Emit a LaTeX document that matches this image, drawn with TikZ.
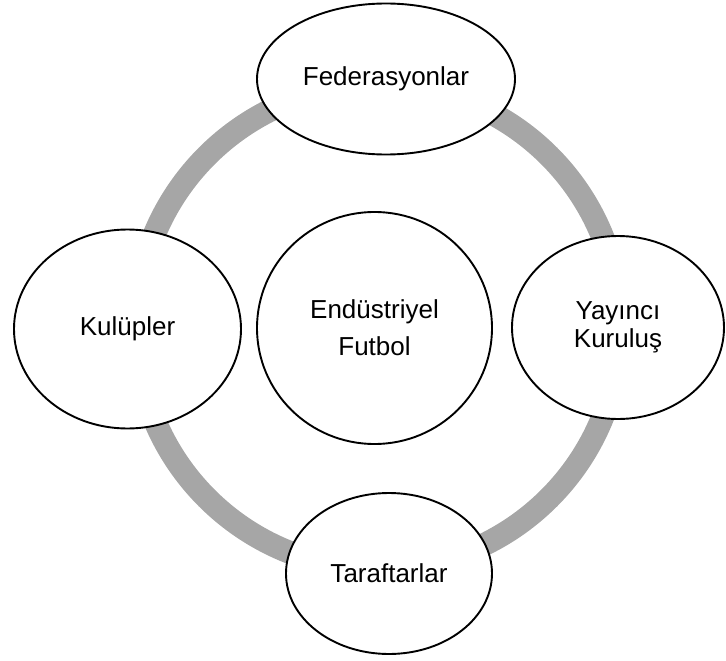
\documentclass[tikz,border=0pt]{standalone}
\usepackage{fontspec}
\setmainfont{Liberation Sans}
\usetikzlibrary{shapes.geometric}
\definecolor{ringgray}{RGB}{166,166,166}
\begin{document}
\begin{tikzpicture}[x=1pt,y=-1pt,
  bubble/.style={ellipse, draw=black, line width=1.9pt, fill=white, inner sep=0pt,
    align=center, font=\fontsize{26}{37}\selectfont},
  ring/.style={draw=ringgray, line width=23pt}
]
\useasboundingbox (0,0) rectangle (726,661);
\coordinate (ringc) at (378,327);
\draw[ring] (ringc) circle [radius=242pt];
\node[bubble, minimum width=258pt, minimum height=151pt] (fed) at (386,79) {Federasyonlar};
\node[bubble, minimum width=227pt, minimum height=199pt] (kul) at (127.5,329) {Kulüpler};
\node[bubble, minimum width=235pt, minimum height=232pt] (end) at (374.5,328) {Endüstriyel\\Futbol};
\node[bubble, minimum width=212pt, minimum height=183pt, font=\fontsize{26}{27.5}\selectfont] (yay) at (618,327.5) {Yayıncı\\Kuruluş};
\node[bubble, minimum width=206pt, minimum height=161pt] (tar) at (389,573.5) {Taraftarlar};
\end{tikzpicture}
\end{document}
